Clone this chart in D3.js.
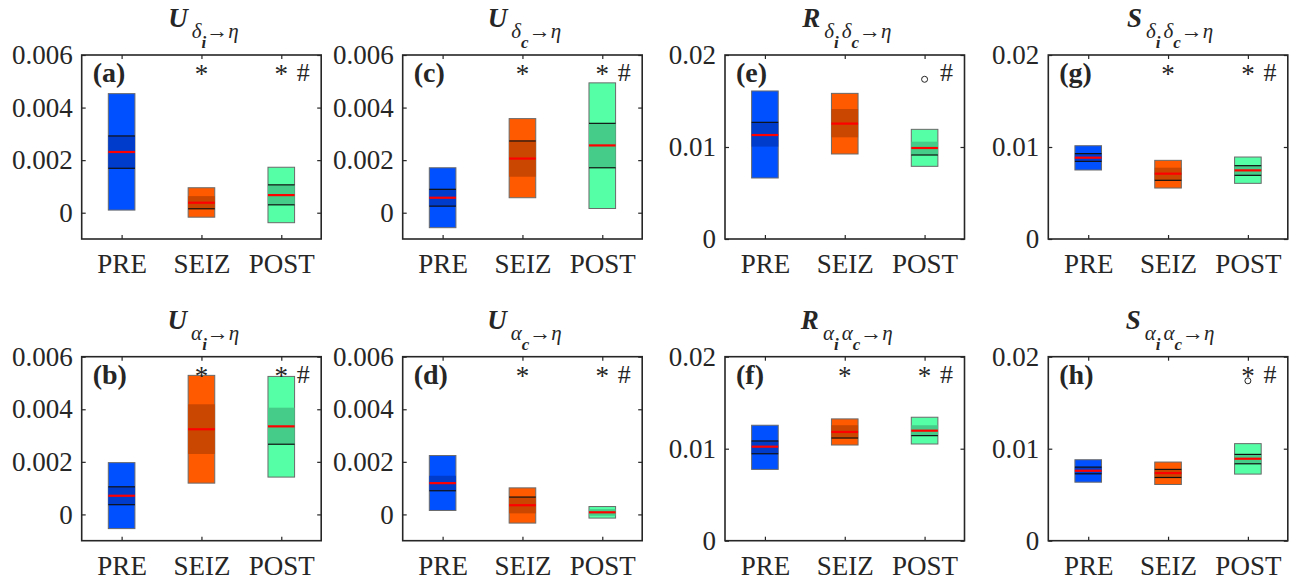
<!DOCTYPE html>
<html>
<head>
<meta charset="utf-8">
<title>PRE / SEIZ / POST</title>
<script src="https://cdn.jsdelivr.net/npm/d3@7"></script>
<style>
  body { margin: 0; background: #fff; }
  text { font-family: "Liberation Serif", "Times New Roman", serif; fill: #262626; }
</style>
</head>
<body>
<script>
// groups on the x axis
var groups = ["PRE", "SEIZ", "POST"];

// each row: [low, band low, mean, band high, high]
var panelA = [[0.0001, 0.00169, 0.00231, 0.00292, 0.00453],
              [-0.00017, 0.00015, 0.00038, 0.00063, 0.00095],
              [-0.00038, 0.0003, 0.00067, 0.00106, 0.00173]];
var panelB = [[-0.00054, 0.00037, 0.00071, 0.00105, 0.00197],
              [0.00119, 0.0023, 0.00324, 0.00419, 0.00529],
              [0.00142, 0.00267, 0.00335, 0.00406, 0.00525]];
var panelC = [[-0.00057, 0.00025, 0.00057, 0.00089, 0.00171],
              [0.00057, 0.00137, 0.00206, 0.00273, 0.00358],
              [0.00016, 0.00171, 0.00256, 0.0034, 0.00494]];
var panelD = [[0.00015, 0.0009, 0.00119, 0.00147, 0.00224],
              [-0.00033, 0.00004, 0.00035, 0.00066, 0.00101],
              [-0.00014, -0.00005, 0.00008, 0.0002, 0.0003]];
var panelE = [[0.00663, 0.01004, 0.0113, 0.01268, 0.01609],
              [0.00924, 0.01105, 0.01254, 0.01413, 0.01583],
              [0.0079, 0.00913, 0.00989, 0.01058, 0.01192]];
var panelF = [[0.00775, 0.00945, 0.01022, 0.01084, 0.01255],
              [0.0104, 0.01116, 0.01182, 0.01255, 0.01324],
              [0.01051, 0.01142, 0.01196, 0.01255, 0.01342]];
var panelG = [[0.0075, 0.00844, 0.00884, 0.00928, 0.01014],
              [0.00554, 0.00638, 0.0071, 0.00775, 0.00855],
              [0.00605, 0.00692, 0.00746, 0.00797, 0.00891]];
var panelH = [[0.00636, 0.00727, 0.0076, 0.008, 0.0088],
              [0.00611, 0.00687, 0.00735, 0.00775, 0.00855],
              [0.00724, 0.00836, 0.00891, 0.00938, 0.01055]];

// which band edges carry a black line: [lower, upper] per group
var edgesA = [[1, 1], [1, 0], [1, 1]];
var edgesB = [[1, 1], [0, 0], [1, 0]];
var edgesC = [[1, 1], [0, 1], [1, 1]];
var edgesD = [[1, 0], [0, 1], [0, 0]];
var edgesE = [[0, 1], [0, 0], [1, 0]];
var edgesF = [[1, 1], [1, 0], [1, 0]];
var edgesG = [[1, 1], [1, 0], [1, 1]];
var edgesH = [[1, 1], [1, 1], [1, 1]];

// significance marks per group (* vs PRE), # on POST
var starsA = [0, 1, 1], starsB = [0, 1, 1], starsC = [0, 1, 1], starsD = [0, 1, 1];
var starsE = [0, 0, 0], starsF = [0, 1, 1], starsG = [0, 1, 1], starsH = [0, 0, 1];
var hashMark = [0, 0, 1];

// outliers: [group index, value]
var outliersE = [[2, 0.01736]];
var outliersH = [[2, 0.01738]];

// y ticks
var uTicks = [0, 0.002, 0.004, 0.006];
var rsTicks = [0, 0.01, 0.02];
var uDomain = [-0.001, 0.006];
var rsDomain = [0, 0.02];

var panels = [
  {id: "a", col: 0, row: 0, data: panelA, edges: edgesA, stars: starsA, out: [], dom: uDomain, ticks: uTicks, main: "U", sub: [["δ", "i"]]},
  {id: "b", col: 0, row: 1, data: panelB, edges: edgesB, stars: starsB, out: [], dom: uDomain, ticks: uTicks, main: "U", sub: [["α", "i"]]},
  {id: "c", col: 1, row: 0, data: panelC, edges: edgesC, stars: starsC, out: [], dom: uDomain, ticks: uTicks, main: "U", sub: [["δ", "c"]]},
  {id: "d", col: 1, row: 1, data: panelD, edges: edgesD, stars: starsD, out: [], dom: uDomain, ticks: uTicks, main: "U", sub: [["α", "c"]]},
  {id: "e", col: 2, row: 0, data: panelE, edges: edgesE, stars: starsE, out: outliersE, dom: rsDomain, ticks: rsTicks, main: "R", sub: [["δ", "i"], ["δ", "c"]]},
  {id: "f", col: 2, row: 1, data: panelF, edges: edgesF, stars: starsF, out: [], dom: rsDomain, ticks: rsTicks, main: "R", sub: [["α", "i"], ["α", "c"]]},
  {id: "g", col: 3, row: 0, data: panelG, edges: edgesG, stars: starsG, out: [], dom: rsDomain, ticks: rsTicks, main: "S", sub: [["δ", "i"], ["δ", "c"]]},
  {id: "h", col: 3, row: 1, data: panelH, edges: edgesH, stars: starsH, out: outliersH, dom: rsDomain, ticks: rsTicks, main: "S", sub: [["α", "i"], ["α", "c"]]}
];

var lightCol = ["#0050ff", "#ff5a00", "#55ffa6"];
var darkCol  = ["#003ccc", "#c94700", "#44cc88"];

// layout
var colLeft = [81.7, 402.7, 725, 1048.3];
var rowTop = [55, 356.7];
var pw = 239.5, ph = 184;

var svg = d3.select("body").append("svg")
    .attr("width", 1290)
    .attr("height", 580);

panels.forEach(function(p) {
    var g = svg.append("g")
        .attr("transform", "translate(" + colLeft[p.col] + "," + rowTop[p.row] + ")");

    var x = d3.scalePoint().domain(groups).range([0, pw]).padding(0.5);
    var y = d3.scaleLinear().domain(p.dom).range([ph, 0]);
    var bw = x.step() / 3;

    // boxes
    p.data.forEach(function(d, i) {
        var cx = x(groups[i]);
        g.append("rect")
            .attr("x", cx - bw / 2).attr("width", bw)
            .attr("y", y(d[4])).attr("height", y(d[0]) - y(d[4]))
            .attr("fill", lightCol[i])
            .attr("stroke", "#6a6a6a").attr("stroke-width", 1);
        g.append("rect")
            .attr("x", cx - bw / 2).attr("width", bw)
            .attr("y", y(d[3])).attr("height", y(d[1]) - y(d[3]))
            .attr("fill", darkCol[i]);
        [d[1], d[3]].forEach(function(v, k) {
            if (!p.edges[i][k]) return;
            g.append("line")
                .attr("x1", cx - bw / 2).attr("x2", cx + bw / 2)
                .attr("y1", y(v)).attr("y2", y(v))
                .attr("stroke", "#111").attr("stroke-width", 1.2);
        });
        g.append("line")
            .attr("x1", cx - bw / 2).attr("x2", cx + bw / 2)
            .attr("y1", y(d[2])).attr("y2", y(d[2]))
            .attr("stroke", "#ff0000").attr("stroke-width", 2.2);
    });

    // outliers
    p.out.forEach(function(o) {
        g.append("circle")
            .attr("cx", x(groups[o[0]])).attr("cy", y(o[1]))
            .attr("r", 3).attr("fill", "none")
            .attr("stroke", "#222").attr("stroke-width", 1);
    });

    // axes (ticks pointing inward)
    var yAx = g.append("g").call(d3.axisLeft(y).tickValues(p.ticks)
        .tickSizeInner(-4).tickSizeOuter(0).tickPadding(9)
        .tickFormat(function(v) { return v === 0 ? "0" : String(v); }));
    var yAxR = g.append("g").attr("transform", "translate(" + pw + ",0)")
        .call(d3.axisRight(y).tickValues(p.ticks).tickSizeInner(-4).tickSizeOuter(0).tickFormat(""));
    var xAx = g.append("g").attr("transform", "translate(0," + ph + ")")
        .call(d3.axisBottom(x).tickSizeInner(-4).tickSizeOuter(0).tickPadding(15));
    var xAxT = g.append("g")
        .call(d3.axisTop(x).tickSizeInner(-4).tickSizeOuter(0).tickFormat(""));
    [yAx, yAxR, xAx, xAxT].forEach(function(a) {
        a.select(".domain").remove();
        a.selectAll("line").attr("stroke", "#262626").attr("stroke-width", 1.2);
        a.selectAll("text").attr("font-size", 27).attr("fill", "#262626");
    });

    g.append("rect")
        .attr("width", pw).attr("height", ph)
        .attr("fill", "none").attr("stroke", "#262626").attr("stroke-width", 1.6);

    // panel label
    g.append("text")
        .attr("x", 11).attr("y", 27)
        .attr("font-size", 28).attr("font-weight", "bold")
        .text("(" + p.id + ")");

    // significance marks
    p.stars.forEach(function(s, i) {
        if (!s) return;
        g.append("text")
            .attr("x", x(groups[i])).attr("y", 28)
            .attr("text-anchor", "middle")
            .attr("font-size", 27)
            .text("*");
    });
    hashMark.forEach(function(h, i) {
        if (!h) return;
        g.append("text")
            .attr("x", x(groups[i]) + 22).attr("y", 26)
            .attr("text-anchor", "middle")
            .attr("font-size", 26)
            .text("#");
    });

    // title with subscripts
    var t = g.append("text")
        .attr("x", pw / 2 + 2).attr("y", -28)
        .attr("text-anchor", "middle");
    t.append("tspan")
        .attr("font-size", 27).attr("font-weight", "bold").attr("font-style", "italic")
        .text(p.main);
    p.sub.forEach(function(s, k) {
        t.append("tspan")
            .attr("dy", k === 0 ? 11 : -10)
            .attr("dx", k === 0 ? 4 : 3)
            .attr("font-size", 21).attr("font-style", "italic")
            .text(s[0]);
        t.append("tspan")
            .attr("dy", 10)
            .attr("font-size", 17).attr("font-weight", "bold").attr("font-style", "italic")
            .text(s[1]);
    });
    t.append("tspan")
        .attr("dy", -10)
        .attr("font-size", 22)
        .text("→");
    t.append("tspan")
        .attr("font-size", 21).attr("font-style", "italic")
        .text("η");
});
</script>
</body>
</html>
